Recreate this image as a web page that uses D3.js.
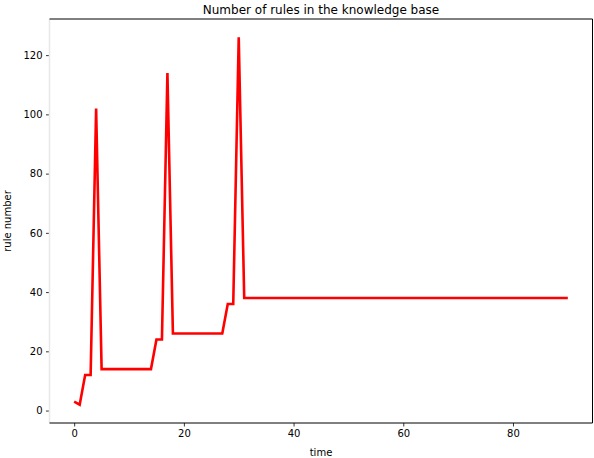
<!DOCTYPE html>
<html>
<head>
<meta charset="utf-8">
<script src="https://cdn.jsdelivr.net/npm/d3@7"></script>
<style>
html,body{margin:0;padding:0;background:#fff;}
svg{display:block;font-family:"DejaVu Sans",sans-serif;}
</style>
</head>
<body>
<svg id="chart" width="594" height="458"></svg>
<script>
const timeValues = [0, 1, 2, 3, 4, 5, 14, 15, 16, 17, 18, 27, 28, 29, 30, 31, 90];
const ruleCounts = [3, 2, 12, 12, 102, 14, 14, 24, 24, 114, 26, 26, 36, 36, 126, 38, 38];
const xTicks = [0, 20, 40, 60, 80];
const yTicks = [0, 20, 40, 60, 80, 100, 120];
const titleText = "Number of rules in the knowledge base";
const xLabel = "time";
const yLabel = "rule number";

const data = timeValues.map((t, i) => ({t, v: ruleCounts[i]}));
const svg = d3.select("#chart");
const m = {left: 49.5, right: 592.5, top: 19, bottom: 423};

const xMin = d3.min(timeValues), xMax = d3.max(timeValues);
const yMin = d3.min(ruleCounts), yMax = d3.max(ruleCounts);
const xPad = (xMax - xMin) * 0.05, yPad = (yMax - yMin) * 0.05;
const x = d3.scaleLinear().domain([xMin - xPad, xMax + xPad]).range([m.left, m.right]);
const y = d3.scaleLinear().domain([yMin - yPad, yMax + yPad]).range([m.bottom, m.top]);

// X axis
const xAxis = svg.append("g").attr("transform", `translate(0,${m.bottom})`)
  .call(d3.axisBottom(x).tickValues(xTicks).tickSize(3.5).tickPadding(3.5).tickFormat(d3.format("d")));
xAxis.select(".domain").remove();
xAxis.selectAll("line").attr("stroke", "#000").attr("stroke-width", 0.8);
xAxis.selectAll("text").attr("font-size", 10).attr("fill", "#000").attr("font-family", "DejaVu Sans");

// Y axis
const yAxis = svg.append("g").attr("transform", `translate(${m.left},0)`)
  .call(d3.axisLeft(y).tickValues(yTicks).tickSize(3.5).tickPadding(3.5).tickFormat(d3.format("d")));
yAxis.select(".domain").remove();
yAxis.selectAll("line").attr("stroke", "#000").attr("stroke-width", 0.8);
yAxis.selectAll("text").attr("font-size", 10).attr("fill", "#000").attr("font-family", "DejaVu Sans");

// Line
svg.append("path").datum(data)
  .attr("fill", "none")
  .attr("stroke", "#ff0000")
  .attr("stroke-width", 2.6)
  .attr("stroke-linejoin", "miter")
  .attr("d", d3.line().x(d => x(d.t)).y(d => y(d.v)));

// Spines
svg.append("line").attr("x1", m.left).attr("x2", m.left).attr("y1", m.top).attr("y2", m.bottom)
  .attr("stroke", "#e8e8e8").attr("stroke-width", 1.5);
svg.append("line").attr("x1", m.left).attr("x2", m.right).attr("y1", m.bottom).attr("y2", m.bottom)
  .attr("stroke", "#000").attr("stroke-width", 1);
svg.append("line").attr("x1", m.left).attr("x2", m.right).attr("y1", m.top).attr("y2", m.top)
  .attr("stroke", "#000").attr("stroke-width", 1);
svg.append("line").attr("x1", m.right).attr("x2", m.right).attr("y1", m.top).attr("y2", m.bottom)
  .attr("stroke", "#000").attr("stroke-width", 1);

// Title and labels
svg.append("text").attr("x", (m.left + m.right) / 2).attr("y", 14)
  .attr("text-anchor", "middle").attr("font-size", 12).attr("fill", "#000").text(titleText);
svg.append("text").attr("x", (m.left + m.right) / 2).attr("y", 456)
  .attr("text-anchor", "middle").attr("font-size", 10).attr("fill", "#000").text(xLabel);
svg.append("text").attr("transform", `translate(11,${(m.top + m.bottom) / 2}) rotate(-90)`)
  .attr("text-anchor", "middle").attr("font-size", 10).attr("fill", "#000").text(yLabel);
</script>
</body>
</html>
